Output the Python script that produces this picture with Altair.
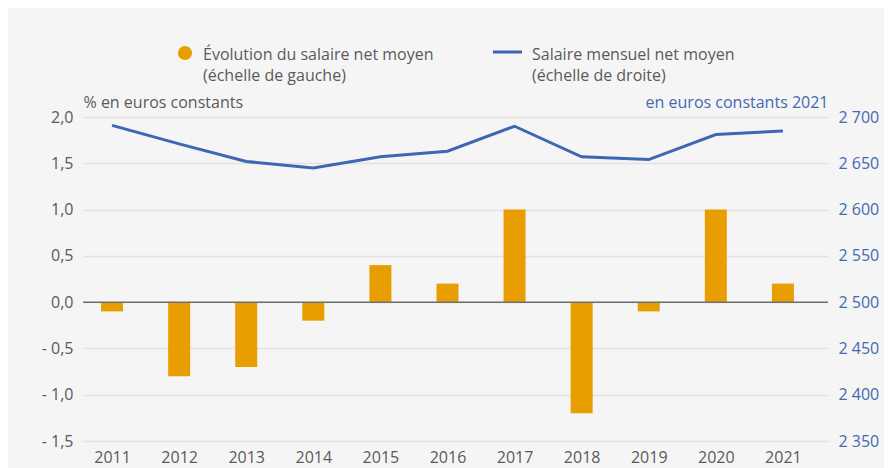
import altair as alt
import pandas as pd

years = [2011, 2012, 2013, 2014, 2015, 2016, 2017, 2018, 2019, 2020, 2021]
evolution = [-0.1, -0.8, -0.7, -0.2, 0.4, 0.2, 1.0, -1.2, -0.1, 1.0, 0.2]
salaire = [2691, 2671, 2652, 2645, 2657, 2663, 2690, 2657, 2654, 2681, 2685]
legend_bar = "Évolution du salaire net moyen\n(échelle de gauche)"
legend_line = "Salaire mensuel net moyen\n(échelle de droite)"
left_title = "% en euros constants"
right_title = "en euros constants 2021"

df = pd.DataFrame({"annee": years, "evolution": evolution, "salaire": salaire})

FONT = "Open Sans"
FS = 16
ORANGE = "#E89E00"
BLUE = "#3D67B3"
AXBLUE = "#4469B0"
GRAY = "#5a5a5a"

xscale = alt.Scale(domain=[2010.567, 2021.672], nice=False, zero=False, padding=0)
xaxis = alt.Axis(values=years, format="d", title=None, grid=False, domain=False,
                 ticks=False, labelPadding=8, labelFontSize=FS, labelColor=GRAY,
                 labelFont=FONT)

left_label = ("datum.value < 0 ? '- ' + replace(format(-datum.value, '.1f'), '.', ',') "
              ": replace(format(datum.value, '.1f'), '.', ',')")

bars = alt.Chart(df).mark_bar(size=22, color=ORANGE).encode(
    x=alt.X("annee:Q", scale=xscale, axis=xaxis),
    y=alt.Y("evolution:Q",
            scale=alt.Scale(domain=[-1.5, 2.0], nice=False),
            axis=alt.Axis(orient="left", values=[-1.5, -1.0, -0.5, 0, 0.5, 1.0, 1.5, 2.0],
                          labelExpr=left_label, grid=True, gridColor="#e2e2e2",
                          gridWidth=1.5, domain=False, ticks=False, labelPadding=10,
                          labelFontSize=FS, labelColor=GRAY, labelFont=FONT,
                          title=left_title, titleAngle=0, titleAlign="left",
                          titleX=0, titleY=-10, titleFontSize=FS,
                          titleFontWeight="normal", titleColor=GRAY, titleFont=FONT,
                          titleBaseline="alphabetic")),
)

zero = alt.Chart(pd.DataFrame({"z": [0]})).mark_rule(color="#6e6e6e", strokeWidth=1.5).encode(
    y=alt.Y("z:Q", scale=alt.Scale(domain=[-1.5, 2.0], nice=False))
)

line = alt.Chart(df).mark_line(color=BLUE, strokeWidth=3).encode(
    x=alt.X("annee:Q", scale=xscale, axis=xaxis),
    y=alt.Y("salaire:Q",
            scale=alt.Scale(domain=[2350, 2700], nice=False, zero=False),
            axis=alt.Axis(orient="right", values=list(range(2350, 2701, 50)),
                          labelExpr="replace(format(datum.value, ',d'), ',', ' ')",
                          grid=False, domain=False, ticks=False, labelPadding=10,
                          labelFontSize=FS, labelColor=AXBLUE, labelFont=FONT,
                          title=right_title, titleAngle=0, titleAlign="right",
                          titleX=0, titleY=-10, titleFontSize=FS,
                          titleFontWeight="normal", titleColor=AXBLUE, titleFont=FONT,
                          titleBaseline="alphabetic")),
)

leg_df = pd.DataFrame({"a": [legend_bar], "b": [legend_line]})
leg_circle = alt.Chart(leg_df).mark_circle(color=ORANGE, size=200, opacity=1).encode(
    x=alt.value(102), y=alt.value(-64))
leg_text1 = alt.Chart(leg_df).mark_text(align="left", baseline="middle", lineBreak="\n",
                                        lineHeight=21, fontSize=FS, font=FONT,
                                        color=GRAY).encode(
    x=alt.value(120), y=alt.value(-62), text="a:N")
leg_rule = alt.Chart(leg_df).mark_rule(color=BLUE, strokeWidth=3).encode(
    x=alt.value(410), x2=alt.value(439), y=alt.value(-65))
leg_text2 = alt.Chart(leg_df).mark_text(align="left", baseline="middle", lineBreak="\n",
                                        lineHeight=21, fontSize=FS, font=FONT,
                                        color=GRAY).encode(
    x=alt.value(449), y=alt.value(-62), text="b:N")

chart = alt.layer(
    alt.layer(bars, zero),
    line,
    leg_circle, leg_text1, leg_rule, leg_text2,
).resolve_scale(y="independent").properties(
    width=745, height=324,
    autosize=alt.AutoSizeParams(type="none"),
    padding={"left": 75, "top": 109, "right": 56, "bottom": 30},
    background="#f5f5f5",
).configure_view(stroke=None)

chart.save("out.html", embed_options={"renderer": "svg", "actions": False})
